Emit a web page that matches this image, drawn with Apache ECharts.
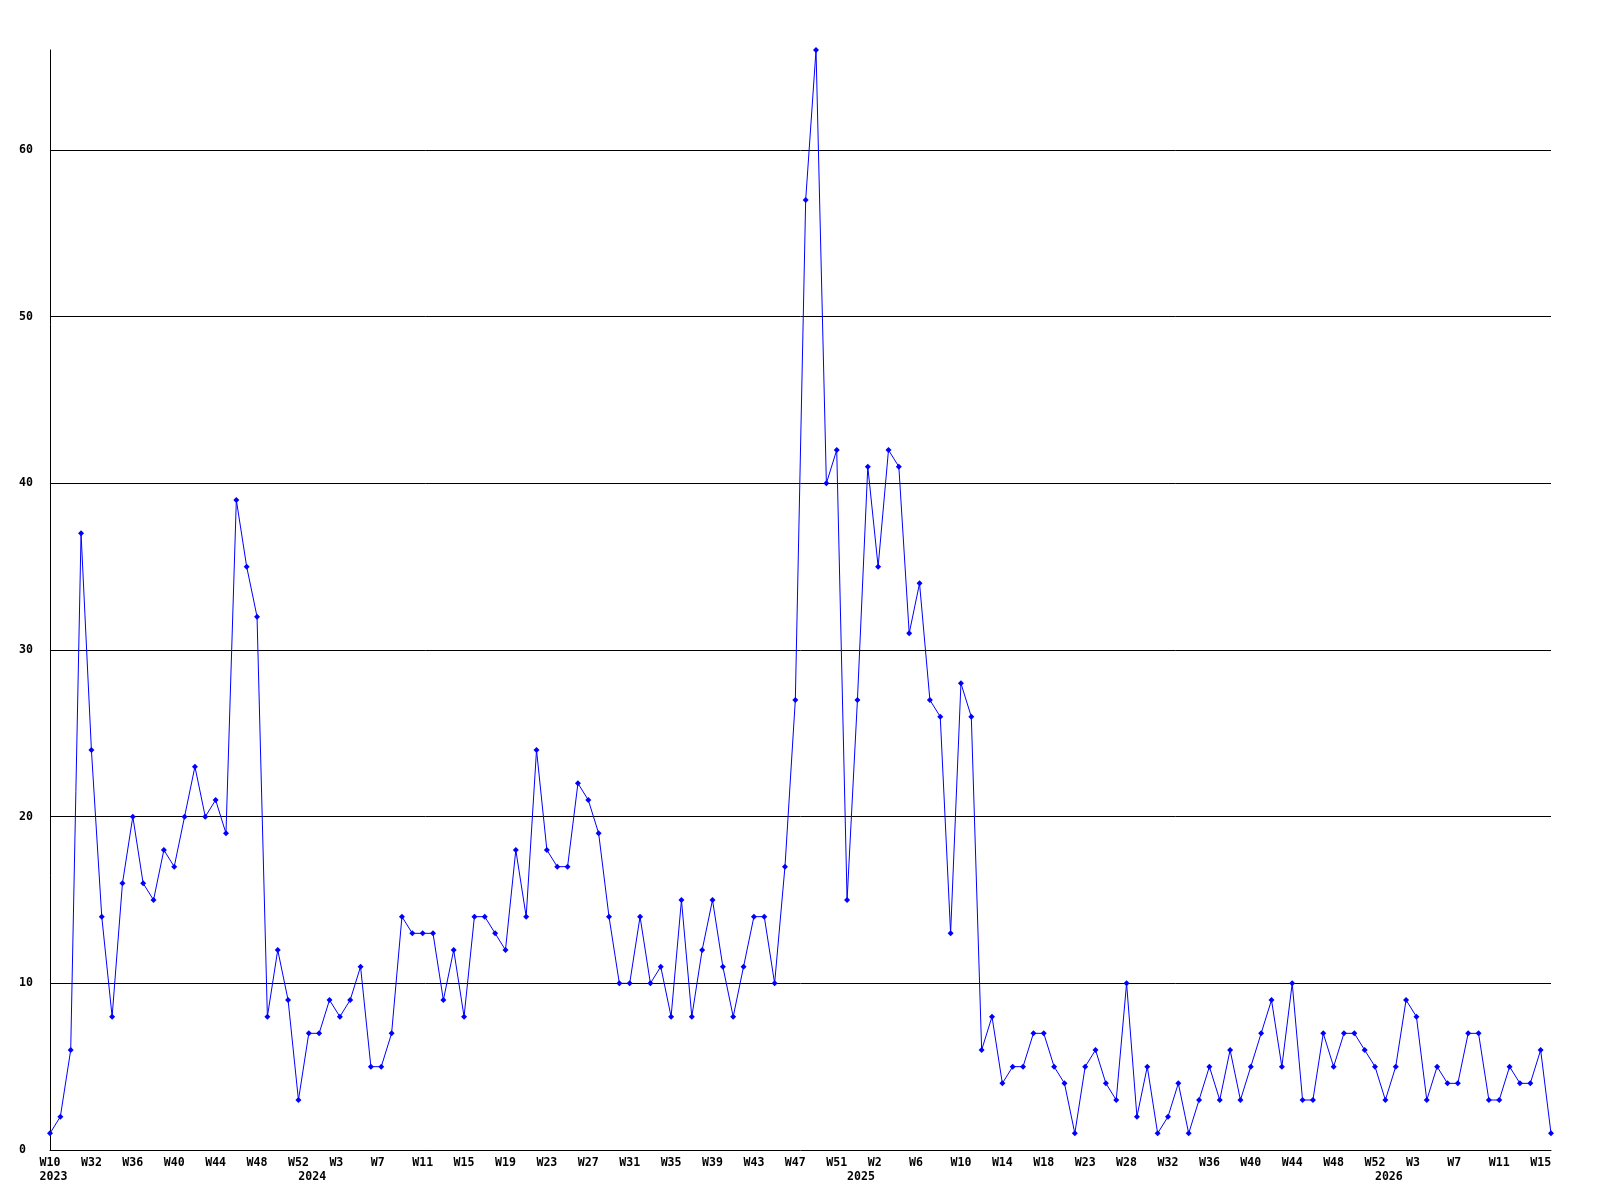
<!DOCTYPE html>
<html>
<head>
<meta charset="utf-8">
<script src="https://cdn.jsdelivr.net/npm/echarts@6/dist/echarts.min.js"></script>
<style>html,body{margin:0;padding:0;background:#fff;}#c{width:1600px;height:1200px;}</style>
</head>
<body>
<div id="c"></div>
<script>
// weekly values, one per point (146 points)
const values = [
  1, 2, 6, 37, 24, 14, 8, 16, 20, 16, 15, 18, 17, 20, 23, 20, 21, 19, 39, 35,
  32, 8, 12, 9, 3, 7, 7, 9, 8, 9, 11, 5, 5, 7, 14, 13, 13, 13, 9, 12,
  8, 14, 14, 13, 12, 18, 14, 24, 18, 17, 17, 22, 21, 19, 14, 10, 10, 14, 10, 11,
  8, 15, 8, 12, 15, 11, 8, 11, 14, 14, 10, 17, 27, 57, 66, 40, 42, 15, 27, 41,
  35, 42, 41, 31, 34, 27, 26, 13, 28, 26, 6, 8, 4, 5, 5, 7, 7, 5, 4, 1,
  5, 6, 4, 3, 10, 2, 5, 1, 2, 4, 1, 3, 5, 3, 6, 3, 5, 7, 9, 5,
  10, 3, 3, 7, 5, 7, 7, 6, 5, 3, 5, 9, 8, 3, 5, 4, 4, 7, 7, 3,
  3, 5, 4, 4, 6, 1
];
// tick labels, shown on every 4th point starting at the first
const tickLabels = [
  'W10','W32','W36','W40','W44','W48','W52','W3','W7','W11','W15','W19','W23',
  'W27','W31','W35','W39','W43','W47','W51','W2','W6','W10','W14','W18','W23',
  'W28','W32','W36','W40','W44','W48','W52','W3','W7','W11','W15'
];
// year labels: point index and year
const yearIndex = [0, 25, 78, 129];
const yearNames = ['2023', '2024', '2025', '2026'];

const categories = values.map((v, i) => String(i));
const TICK_STEP = 4;

function labelFor(i) {
  let top = '';
  if (i % TICK_STEP === 0) {
    const t = tickLabels[i / TICK_STEP] || '';
    top = t.length < 3 ? t + ' '.repeat(3 - t.length) : t;
  }
  const yi = yearIndex.indexOf(i);
  if (yi >= 0) return top + '\n ' + yearNames[yi];
  return top;
}

const font = '"DejaVu Sans Mono", "Liberation Mono", monospace';
const chart = echarts.init(document.getElementById('c'), null, {renderer: 'canvas'});
chart.setOption({
  animation: false,
  backgroundColor: '#ffffff',
  grid: {left: 50, right: 49, top: 50, bottom: 50, containLabel: false},
  xAxis: {
    type: 'category',
    data: categories,
    boundaryGap: false,
    axisLine: {show: true, lineStyle: {color: '#000', width: 1}},
    axisTick: {show: false},
    splitLine: {show: false},
    axisLabel: {
      interval: function (i) { return i % TICK_STEP === 0 || yearIndex.indexOf(i) >= 0; },
      formatter: function (v, i) { return labelFor(i); },
      hideOverlap: false,
      color: '#000',
      fontFamily: font,
      fontWeight: 'bold',
      fontSize: 11.6,
      lineHeight: 14,
      align: 'center',
      margin: 6
    }
  },
  yAxis: {
    type: 'value',
    min: 0,
    max: 66,
    interval: 10,
    axisLine: {show: true, lineStyle: {color: '#000', width: 1}},
    axisTick: {show: false},
    splitLine: {show: true, showMinLine: false, showMaxLine: false, lineStyle: {color: '#000', width: 1}},
    axisLabel: {
      showMaxLabel: false,
      color: '#000',
      fontFamily: font,
      fontWeight: 'bold',
      fontSize: 11.6,
      align: 'left',
      margin: 31
    }
  },
  series: [{
    type: 'line',
    data: values,
    symbol: 'diamond',
    symbolSize: 6,
    showAllSymbol: true,
    clip: false,
    lineStyle: {color: '#0000ff', width: 1},
    itemStyle: {color: '#0000ff'},
    emphasis: {disabled: true}
  }]
});
</script>
</body>
</html>
